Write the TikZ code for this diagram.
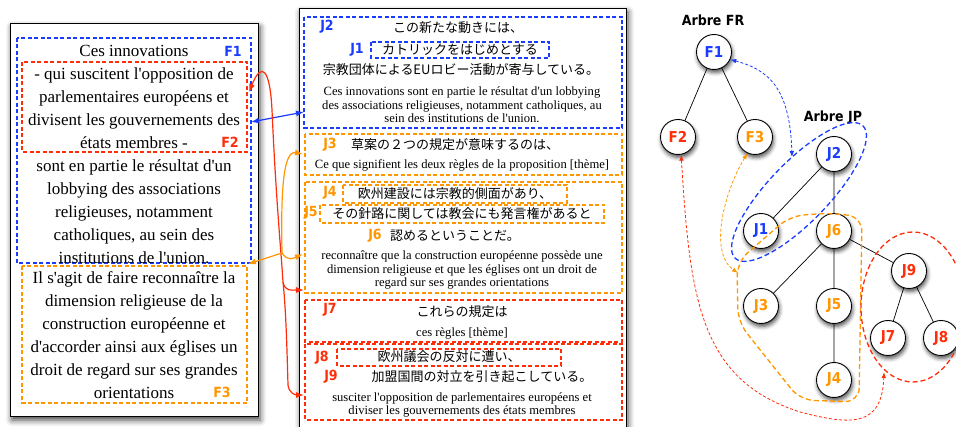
\documentclass[tikz,border=0pt]{standalone}
\usepackage{fontspec}
\setmainfont{Liberation Serif}[Ligatures=TeXOff]
\newfontfamily\jpfont{Noto Sans CJK JP}
\newfontfamily\labfont{DejaVu Sans Condensed}
\usetikzlibrary{arrows.meta,shadows.blur}
\definecolor{frblue}{RGB}{25,60,255}
\definecolor{frred}{RGB}{255,45,10}
\definecolor{frorange}{RGB}{255,150,0}

\begin{document}
\begin{tikzpicture}[x=1pt, y=-1pt,
    panel/.style={draw=black, line width=1pt, fill=white,
        blur shadow={shadow xshift=2pt, shadow yshift=-3pt, shadow blur radius=6pt, shadow opacity=75}},
    fbox/.style={draw=#1, line width=1.2pt, dash pattern=on 4pt off 2.5pt},
    frl/.style={align=center, inner sep=0pt, font=\fontsize{17}{23}\selectfont},
    frs/.style={align=center, inner sep=0pt, font=\fontsize{12.6}{13.5}\selectfont},
    jp/.style={inner sep=0pt, font=\jpfont\fontsize{13}{14}\selectfont},
    lab/.style={inner sep=0pt, text=#1, font=\labfont\bfseries\fontsize{14}{14}\selectfont},
    link/.style={draw=#1, line width=1.2pt},
    tnode/.style={circle, draw=black, fill=white, line width=0.9pt, minimum size=35pt, inner sep=0pt,
        text=#1, font=\labfont\bfseries\fontsize{15}{15}\selectfont,
        blur shadow={shadow xshift=1pt, shadow yshift=-3pt, shadow blur radius=4pt, shadow opacity=70}},
    grp/.style={draw=#1, line width=1.3pt, dash pattern=on 5pt off 3pt},
    tlink/.style={draw=#1, line width=0.8pt, dash pattern=on 3pt off 2pt}
    ]
    \useasboundingbox (0,0) rectangle (956,427);
    % points where the links meet the boxes
    \coordinate (f1e) at (251,122);
    \coordinate (f2e) at (249,92);
    \coordinate (f3e) at (248,264);
    \coordinate (j2w) at (304,112);
    \coordinate (j3w) at (303,154);
    \coordinate (j4w) at (303,254);
    \coordinate (j7w) at (304,290);
    \coordinate (j8w) at (304,395);
    % branch points
    \coordinate (rb) at (283,282);
    \coordinate (ob) at (282,253);
    % panels
    \path[panel] (10,24) rectangle (258,417);
    \path[panel] (299,9) rectangle (626,440);
    % french boxes
    \path[fbox=frblue] (17,38) rectangle (251,263);
    \path[fbox=frred] (22,62) rectangle (247,152);
    \path[fbox=frorange] (22,266) rectangle (247,403);
    % japanese boxes
    \path[fbox=frblue] (304,17) rectangle (622,128);
    \path[fbox=frblue] (371,42) rectangle (549,58);
    \path[fbox=frorange] (305,134) rectangle (622,175);
    \path[fbox=frorange] (305,182) rectangle (622,293);
    \path[fbox=frorange] (343,185) rectangle (567,203);
    \path[fbox=frorange] (320,205) rectangle (604,223);
    \path[fbox=frred] (305,300) rectangle (622,342);
    \path[fbox=frred] (305,344) rectangle (622,420);
    \path[fbox=frred] (337,349) rectangle (561,366);
    % french text
    \node[frl] (tF1) at (134,154) {Ces innovations\\- qui suscitent l'opposition de\\parlementaires européens et\\divisent les gouvernements des\\états membres -\\sont en partie le résultat d'un\\lobbying des associations\\religieuses, notamment\\catholiques, au sein des\\institutions de l'union.};
    \node[frl] (tF3) at (134,335) {Il s'agit de faire reconnaître la\\dimension religieuse de la\\construction européenne et\\d'accorder ainsi aux églises un\\droit de regard sur ses grandes\\orientations};
    \node[lab=frblue] (lF1) at (233,51) {F1};
    \node[lab=frred] (lF2) at (230,142) {F2};
    \node[lab=frorange] (lF3) at (222,392) {F3};
    % japanese text
    \node[jp] (tJ2a) at (458,28) {この新たな動きには、};
    \node[jp] (tJ1) at (460,50) {カトリックをはじめとする};
    \node[jp] (tJ2b) at (461,70) {宗教団体によるEUロビー活動が寄与している。};
    \node[frs] (tJ2c) at (462,105) {Ces innovations sont en partie le résultat d'un lobbying\\des associations religieuses, notamment catholiques, au\\sein des institutions de l'union.};
    \node[jp] (tJ3) at (455,145) {草案の２つの規定が意味するのは、};
    \node[frs] (tJ3b) at (462,165) {Ce que signifient les deux règles de la proposition [thème]};
    \node[jp] (tJ4) at (455,194) {欧州建設には宗教的側面があり、};
    \node[jp] (tJ5) at (462,214) {その針路に関しては教会にも発言権があると};
    \node[jp] (tJ6) at (455,236) {認めるということだ。};
    \node[frs] (tJ6b) at (462,270) {reconnaître que la construction européenne possède une\\dimension religieuse et que les églises ont un droit de\\regard sur ses grandes orientations};
    \node[jp] (tJ7) at (462,312) {これらの規定は};
    \node[frs] (tJ7b) at (462,333) {ces règles [thème]};
    \node[jp] (tJ8) at (449,357) {欧州議会の反対に遭い、};
    \node[jp] (tJ9) at (482,377) {加盟国間の対立を引き起こしている。};
    \node[frs] (tJ9b) at (462,405) {susciter l'opposition de parlementaires européens et\\diviser les gouvernements des états membres};
    \node[lab=frblue] (lJ2) at (327,27) {J2};
    \node[lab=frblue] (lJ1) at (357,50) {J1};
    \node[lab=frorange] (lJ3) at (330,145) {J3};
    \node[lab=frorange] (lJ4) at (330,193) {J4};
    \node[lab=frorange] (lJ5) at (311,213) {J5};
    \node[lab=frorange] (lJ6) at (375,236) {J6};
    \node[lab=frred] (lJ7) at (330,310) {J7};
    \node[lab=frred] (lJ8) at (322,358) {J8};
    \node[lab=frred] (lJ9) at (331,377) {J9};
    % links between the texts
    \path[link=frblue, {Latex[length=8pt,width=6pt]}-{Latex[length=8pt,width=6pt]}] (f1e) to (j2w);
    \path[link=frred, {Latex[length=8pt,width=6pt]}-{Latex[length=8pt,width=6pt]}] (f2e) .. controls (262,60) and (270,70) .. (272,110) .. controls (276,200) and (281,250) .. (rb) .. controls (285,292) and (292,290) .. (j7w);
    \path[link=frred, -{Latex[length=8pt,width=6pt]}] (rb) .. controls (286,310) and (287,350) .. (288,385) .. controls (289,393) and (295,395) .. (j8w);
    \path[link=frorange, {Latex[length=8pt,width=6pt]}-{Latex[length=8pt,width=6pt]}] (f3e) to (ob) .. controls (288,262) and (294,258) .. (j4w);
    \path[link=frorange, -{Latex[length=8pt,width=6pt]}] (ob) .. controls (281,200) and (282,150) .. (j3w);
    % trees
    \node[font=\labfont\bfseries\fontsize{14}{14}\selectfont] (aFR) at (713,20) {Arbre FR};
    \node[font=\labfont\bfseries\fontsize{14}{14}\selectfont] (aJP) at (833,118) {Arbre JP};
    \node[tnode=frblue] (F1) at (714,52) {F1};
    \node[tnode=frred] (F2) at (678,137) {F2};
    \node[tnode=frorange] (F3) at (755,137) {F3};
    \node[tnode=frblue] (J2) at (834,154) {J2};
    \node[tnode=frblue] (J1) at (761,231) {J1};
    \node[tnode=frorange] (J6) at (834,231) {J6};
    \node[tnode=frorange] (J3) at (761,306) {J3};
    \node[tnode=frorange] (J5) at (834,306) {J5};
    \node[tnode=frorange] (J4) at (834,380) {J4};
    \node[tnode=frred] (J9) at (909,271) {J9};
    \node[tnode=frred] (J7) at (888,338) {J7};
    \node[tnode=frred] (J8) at (941,338) {J8};
    \path[draw, line width=0.7pt] (F1)to(F2) (F1)to(F3);
    \path[draw, line width=0.7pt] (J2)to(J1) (J2)to(J6) (J6)to(J3) (J6)to(J5) (J5)to(J4) (J6)to(J9) (J9)to(J7) (J9)to(J8);
    % groups
    \begin{scope}[shift={(799,192)}, rotate=46]
        \path[grp=frblue] (0,0) ellipse [x radius=92, y radius=30];
    \end{scope}
    \path[grp=frorange, rounded corners=14pt] (830,213) -- (862,217) -- (859,402) -- (800,400) -- (738,322) -- (737,262) -- (790,216) -- cycle;
    \path[grp=frred] (913,307) ellipse [x radius=52, y radius=75];
    \coordinate (eJP) at (792,157);
    \coordinate (eJ6) at (738,273);
    \coordinate (eJ9) at (884,372);
    % tree links
    \path[tlink=frblue, {Latex[length=6pt,width=4.5pt]}-{Latex[length=6pt,width=4.5pt]}] (F1.-25) .. controls (770,70) and (790,90) .. (eJP);
    \path[tlink=frorange, {Latex[length=6pt,width=4.5pt]}-{Latex[length=6pt,width=4.5pt]}] (F3.-115) .. controls (725,190) and (708,252) .. (eJ6);
    \path[tlink=frred, {Latex[length=6pt,width=4.5pt]}-{Latex[length=6pt,width=4.5pt]}] (F2.-80) .. controls (690,300) and (700,380) .. (800,412) .. controls (850,425) and (882,428) .. (eJ9);
\end{tikzpicture}
\end{document}
